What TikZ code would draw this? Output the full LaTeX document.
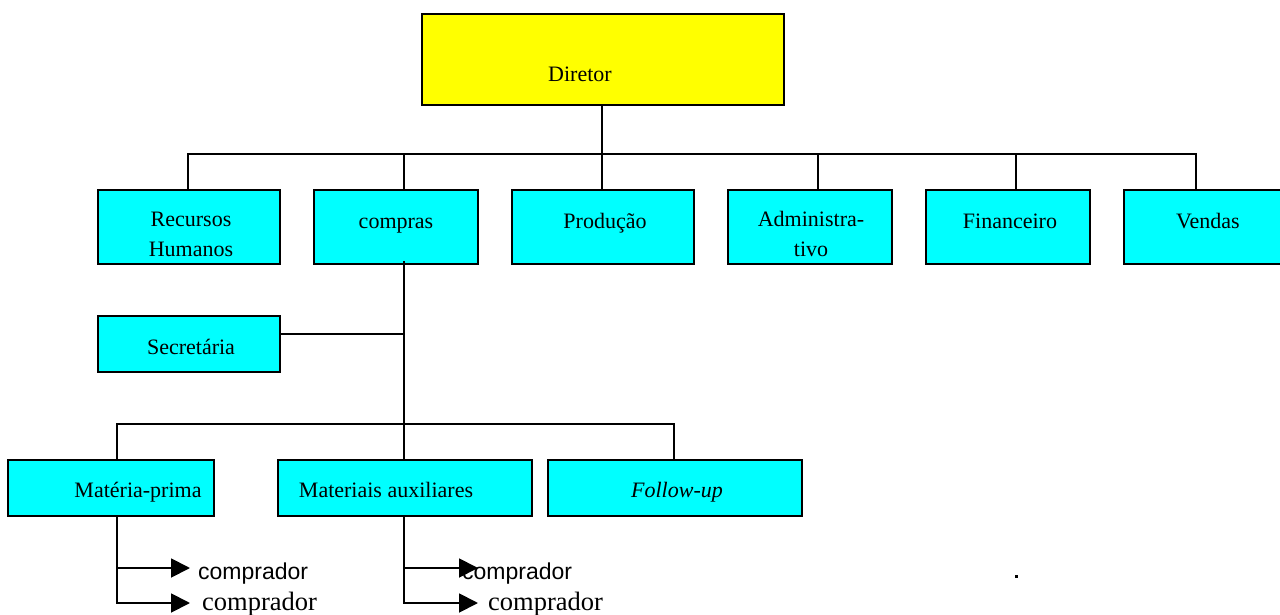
\documentclass[tikz,border=0pt]{standalone}
\usepackage{fontspec}
\setmainfont{Liberation Serif}
\newfontfamily\arialfont{Liberation Sans}
\usetikzlibrary{arrows.meta}
\definecolor{boxcyan}{HTML}{00FFFF}
\definecolor{boxyellow}{HTML}{FFFF00}
\begin{document}
\begin{tikzpicture}[x=1pt,y=-1pt,
  unit/.style={draw=black,line width=1.9pt,fill=boxcyan,inner sep=0pt,
    minimum width=#1,text width=0pt},
  lbl/.style={anchor=base,inner sep=0pt,font=\fontsize{22}{26}\selectfont},
  wire/.style={line width=1.9pt,line cap=rect},
  tip/.style={line width=1.9pt,-{Triangle[length=19pt,width=19pt]}},
  buyer/.style={anchor=base west,inner sep=0pt}]
\useasboundingbox (0,0) rectangle (1280,615);

% top box
\node[unit=362pt,minimum height=91pt,fill=boxyellow] (dir) at (603,59.5) {};
\node[lbl] (dirT) at (580,82) {Diretor};

% departments
\node[unit=182pt,minimum height=74pt] (rh)   at (189,227) {};
\node[unit=164pt,minimum height=74pt] (comp) at (396,227) {};
\node[unit=182pt,minimum height=74pt] (prod) at (603,227) {};
\node[unit=164pt,minimum height=74pt] (adm)  at (810,227) {};
\node[unit=164pt,minimum height=74pt] (fin)  at (1008,227) {};
\node[unit=164pt,minimum height=74pt] (vend) at (1206,227) {};

\node[lbl] (rhA) at (191,226) {Recursos};
\node[lbl] (rhB) at (191,256) {Humanos};
\node[lbl] (compT) at (396,228) {compras};
\node[lbl] (prodT) at (605,228) {Produção};
\node[lbl] (admA) at (811,226) {Administra-};
\node[lbl] (admB) at (811,256) {tivo};
\node[lbl] (finT) at (1010,228) {Financeiro};
\node[lbl] (vendT) at (1208,228) {Vendas};

% secretary
\node[unit=182pt,minimum height=56pt] (sec) at (189,344) {};
\node[lbl] (secT) at (191,354) {Secretária};

% purchasing sections
\node[unit=206pt,minimum height=56pt] (mp) at (111,488) {};
\node[unit=254pt,minimum height=56pt] (ma) at (405,488) {};
\node[unit=254pt,minimum height=56pt] (fu) at (675,488) {};
\node[lbl] (mpT) at (138,497) {Matéria-prima};
\node[lbl] (maT) at (386,497) {Materiais auxiliares};
\node[lbl] (fuT) at (677,497) {\itshape Follow-up};

% top-level tree
\coordinate (busTop) at (602,154);
\draw[wire] (dir.south -| busTop) -- (busTop);
\draw[wire] (188,154) -- (1196,154);
\draw[wire] (188,154) -- (rh.north -| 188,0);
\draw[wire] (404,154) -- (comp.north -| 404,0);
\draw[wire] (602,154) -- (prod.north -| 602,0);
\draw[wire] (818,154) -- (adm.north -| 818,0);
\draw[wire] (1016,154) -- (fin.north -| 1016,0);
\draw[wire] (1196,154) -- (vend.north -| 1196,0);

% purchasing subtree
\coordinate (hub) at (404,424);
\draw[wire] (404,262) -- (hub);
\draw[wire] (sec.east |- 0,334) -- (404,334);
\draw[wire] (117,424) -- (674,424);
\draw[wire] (117,424) -- (mp.north -| 117,0);
\draw[wire] (404,424) -- (ma.north -| 404,0);
\draw[wire] (674,424) -- (fu.north -| 674,0);

% buyers under each section
\node[buyer,font=\arialfont\fontsize{23}{26}\selectfont] (b1) at (198,579) {comprador};
\node[buyer,font=\fontsize{26.5}{30}\selectfont] (b2) at (202,610) {comprador};
\node[buyer,font=\arialfont\fontsize{23}{26}\selectfont] (b3) at (462,579) {comprador};
\node[buyer,font=\fontsize{26.5}{30}\selectfont] (b4) at (488,610) {comprador};

\coordinate (t1) at (190,568);
\coordinate (t2) at (190,603);
\coordinate (t3) at (478,568);
\coordinate (t4) at (478,603);
\draw[wire] (mp.south -| 117,0) -- (117,603);
\draw[tip] (117,568) -- (t1);
\draw[tip] (116,603) -- (t2);
\draw[wire] (ma.south -| 404,0) -- (404,603);
\draw[tip] (404,568) -- (t3);
\draw[tip] (403,603) -- (t4);

% stray mark
\fill (1014.5,574.5) rectangle (1017.5,577.5);
\end{tikzpicture}
\end{document}
